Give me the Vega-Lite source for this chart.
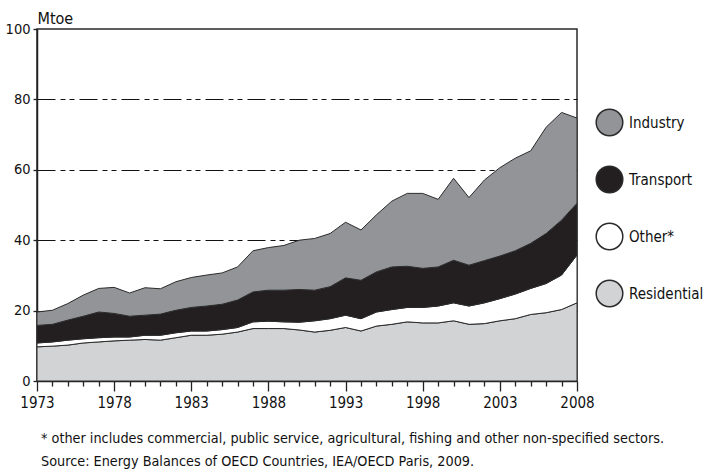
{
  "$schema": "https://vega.github.io/schema/vega-lite/v6.json",
  "width": 540,
  "height": 352,
  "autosize": "none",
  "padding": {"left": 37, "top": 29, "right": 134, "bottom": 92},
  "background": "white",
  "config": {
    "font": "DejaVu Sans Condensed, sans-serif",
    "view": {"stroke": "#2a2a2a", "strokeWidth": 1.5}
  },
  "title": {
    "text": "* other includes commercial, public service, agricultural, fishing and other non-specified sectors.",
    "subtitle": "Source: Energy Balances of OECD Countries, IEA/OECD Paris, 2009.",
    "orient": "bottom",
    "anchor": "start",
    "frame": "group",
    "offset": 22,
    "fontSize": 14.3,
    "fontWeight": "normal",
    "subtitleFontSize": 14.3,
    "subtitlePadding": 9,
    "color": "#111",
    "subtitleColor": "#111",
    "dx": 4
  },
  "datasets": {
    "sectors": [
      {"sector": "Industry", "rank": 4},
      {"sector": "Transport", "rank": 3},
      {"sector": "Other*", "rank": 2},
      {"sector": "Residential", "rank": 1}
    ]
  },
  "data": {
    "values": [
      {"year": 1973, "Residential": 9.7, "Other*": 1.1, "Transport": 5.0, "Industry": 3.8},
      {"year": 1974, "Residential": 9.9, "Other*": 1.2, "Transport": 5.0, "Industry": 4.0},
      {"year": 1975, "Residential": 10.2, "Other*": 1.4, "Transport": 5.7, "Industry": 4.7},
      {"year": 1976, "Residential": 10.8, "Other*": 1.2, "Transport": 6.4, "Industry": 6.0},
      {"year": 1977, "Residential": 11.1, "Other*": 1.2, "Transport": 7.3, "Industry": 6.7},
      {"year": 1978, "Residential": 11.4, "Other*": 1.1, "Transport": 6.7, "Industry": 7.4},
      {"year": 1979, "Residential": 11.6, "Other*": 0.9, "Transport": 5.9, "Industry": 6.6},
      {"year": 1980, "Residential": 11.8, "Other*": 1.2, "Transport": 5.7, "Industry": 7.8},
      {"year": 1981, "Residential": 11.6, "Other*": 1.4, "Transport": 6.0, "Industry": 7.2},
      {"year": 1982, "Residential": 12.3, "Other*": 1.4, "Transport": 6.4, "Industry": 8.1},
      {"year": 1983, "Residential": 13.0, "Other*": 1.2, "Transport": 6.7, "Industry": 8.5},
      {"year": 1984, "Residential": 13.0, "Other*": 1.2, "Transport": 7.1, "Industry": 8.8},
      {"year": 1985, "Residential": 13.3, "Other*": 1.3, "Transport": 7.2, "Industry": 8.9},
      {"year": 1986, "Residential": 13.9, "Other*": 1.3, "Transport": 7.8, "Industry": 9.4},
      {"year": 1987, "Residential": 14.9, "Other*": 1.9, "Transport": 8.5, "Industry": 11.7},
      {"year": 1988, "Residential": 14.9, "Other*": 2.1, "Transport": 8.8, "Industry": 12.1},
      {"year": 1989, "Residential": 14.9, "Other*": 1.9, "Transport": 9.0, "Industry": 12.7},
      {"year": 1990, "Residential": 14.5, "Other*": 2.2, "Transport": 9.3, "Industry": 14.0},
      {"year": 1991, "Residential": 13.9, "Other*": 3.2, "Transport": 8.7, "Industry": 14.7},
      {"year": 1992, "Residential": 14.4, "Other*": 3.3, "Transport": 9.1, "Industry": 15.1},
      {"year": 1993, "Residential": 15.2, "Other*": 3.5, "Transport": 10.6, "Industry": 15.8},
      {"year": 1994, "Residential": 14.2, "Other*": 3.5, "Transport": 10.9, "Industry": 14.3},
      {"year": 1995, "Residential": 15.6, "Other*": 4.0, "Transport": 11.4, "Industry": 16.2},
      {"year": 1996, "Residential": 16.1, "Other*": 4.2, "Transport": 12.1, "Industry": 18.7},
      {"year": 1997, "Residential": 16.8, "Other*": 4.1, "Transport": 11.7, "Industry": 20.7},
      {"year": 1998, "Residential": 16.5, "Other*": 4.4, "Transport": 11.1, "Industry": 21.3},
      {"year": 1999, "Residential": 16.5, "Other*": 4.8, "Transport": 11.1, "Industry": 19.2},
      {"year": 2000, "Residential": 17.1, "Other*": 5.1, "Transport": 12.1, "Industry": 23.3},
      {"year": 2001, "Residential": 16.1, "Other*": 5.2, "Transport": 11.6, "Industry": 19.2},
      {"year": 2002, "Residential": 16.3, "Other*": 5.9, "Transport": 12.0, "Industry": 22.9},
      {"year": 2003, "Residential": 17.1, "Other*": 6.3, "Transport": 12.1, "Industry": 25.1},
      {"year": 2004, "Residential": 17.7, "Other*": 7.0, "Transport": 12.3, "Industry": 26.3},
      {"year": 2005, "Residential": 18.9, "Other*": 7.4, "Transport": 12.8, "Industry": 26.3},
      {"year": 2006, "Residential": 19.4, "Other*": 8.3, "Transport": 14.2, "Industry": 30.2},
      {"year": 2007, "Residential": 20.3, "Other*": 9.8, "Transport": 15.6, "Industry": 30.6},
      {"year": 2008, "Residential": 22.2, "Other*": 13.6, "Transport": 14.7, "Industry": 24.2}
    ]
  },
  "transform": [
    {"fold": ["Residential", "Other*", "Transport", "Industry"], "as": ["sector", "value"]},
    {"lookup": "sector", "from": {"data": {"name": "sectors"}, "key": "sector", "fields": ["rank"]}}
  ],
  "mark": {"type": "area", "stroke": "#2b2b2b", "strokeWidth": 1, "strokeJoin": "round"},
  "encoding": {
    "x": {
      "field": "year",
      "type": "quantitative",
      "scale": {"domain": [1973, 2008], "nice": false, "zero": false},
      "axis": {
        "title": null,
        "values": [1973,1974,1975,1976,1977,1978,1979,1980,1981,1982,1983,1984,1985,1986,1987,1988,1989,1990,1991,1992,1993,1994,1995,1996,1997,1998,1999,2000,2001,2002,2003,2004,2005,2006,2007,2008],
        "format": "d",
        "labelExpr": "datum.value % 5 == 3 ? datum.label : ''",
        "tickSize": {"condition": {"test": "datum.value % 5 == 3", "value": 10}, "value": 5},
        "tickColor": "#222",
        "tickWidth": 1.3,
        "domainColor": "#222",
        "domainWidth": 1.5,
        "labelFontSize": 15,
        "labelColor": "#111",
        "labelPadding": 4,
        "labelFlush": false,
        "labelOverlap": false,
        "grid": false
      }
    },
    "y": {
      "field": "value",
      "type": "quantitative",
      "stack": "zero",
      "scale": {"domain": [0, 100], "nice": false},
      "axis": {
        "title": "Mtoe",
        "titleAngle": 0,
        "titleX": 0,
        "titleY": -11,
        "titleAlign": "left",
        "titleBaseline": "middle",
        "titleFontSize": 16,
        "titleFontWeight": "normal",
        "titleColor": "#111",
        "values": [0, 20, 40, 60, 80, 100],
        "tickSize": 4,
        "tickColor": "#222",
        "tickWidth": 1.3,
        "domainColor": "#222",
        "domainWidth": 1.5,
        "labelFontSize": 14.5,
        "labelColor": "#111",
        "labelPadding": 3,
        "grid": true,
        "gridColor": "#111",
        "gridWidth": 1.2,
        "gridDash": [18, 5, 5, 4, 5, 5],
        "gridOpacity": {"condition": {"test": "datum.value == 0 || datum.value == 100", "value": 0}, "value": 1}
      }
    },
    "color": {
      "field": "sector",
      "type": "nominal",
      "scale": {
        "domain": ["Industry", "Transport", "Other*", "Residential"],
        "range": ["#929497", "#231f20", "#ffffff", "#d2d3d5"]
      },
      "legend": {
        "title": null,
        "orient": "none",
        "legendX": 558,
        "legendY": 79,
        "symbolType": "circle",
        "symbolSize": 707,
        "symbolStrokeColor": "#2b2b2b",
        "symbolStrokeWidth": 1.5,
        "symbolOpacity": 1,
        "rowPadding": 24,
        "labelFontSize": 15,
        "labelColor": "#111",
        "labelOffset": 5
      }
    },
    "order": {"field": "rank", "type": "quantitative", "sort": "ascending"}
  }
}
